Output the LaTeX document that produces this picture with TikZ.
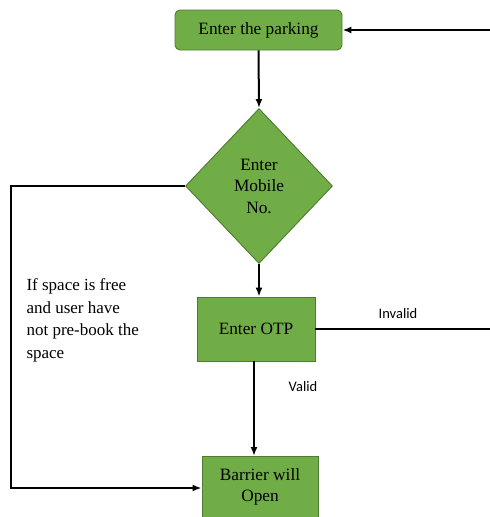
\documentclass[tikz,border=0pt]{standalone}
\usepackage{fontspec}
\setmainfont{Liberation Serif}
\newfontfamily\labelfont{Carlito}
\usetikzlibrary{shapes.geometric,arrows.meta}
\definecolor{boxgreen}{HTML}{70AD47}
\definecolor{boxedge}{HTML}{4E7A31}
\begin{document}
\begin{tikzpicture}[x=1pt,y=-1pt,
  every node/.style={font=\fontsize{17.3}{21.5}\selectfont, text=black},
  greenbox/.style={draw=boxedge, fill=boxgreen, line width=0.9pt, inner sep=0pt},
  conn/.style={line width=2pt, black},
  arr/.style={conn, -{Latex[length=9pt,width=7pt]}},
  tag/.style={font=\labelfont\fontsize{14.5}{17}\selectfont}]
  \useasboundingbox (0,0) rectangle (490,517);

  % process boxes
  \node[greenbox, rounded corners=5pt, minimum width=167pt, minimum height=40pt] (park) at (258.5,30) {Enter the parking};
  \node[greenbox, diamond, minimum width=147pt, minimum height=155pt, align=center, text width=60pt] (mob) at (259,186) {Enter\\Mobile\\No.};
  \node[greenbox, minimum width=118pt, minimum height=64pt] (otp) at (256,329) {Enter OTP};
  \node[greenbox, minimum width=116pt, minimum height=80pt, align=center, anchor=north] (bar) at (260,456) {};
  \node[align=center] (bartext) at (260,487) {Barrier will\\Open};

  % free ends of the long connectors
  \coordinate (inR) at (490,30);
  \coordinate (outR) at (490,329);
  \coordinate (cornTL) at (11,186);
  \coordinate (cornBL) at (11,488);

  % connectors
  \draw[arr] (inR) -- (park.east);
  \draw[arr] (park.south) -- (mob.north);
  \draw[arr] (mob.south) -- (otp.north -| mob.south);
  \draw[conn] (otp.east) -- (outR);
  \draw[arr] (otp.south -| 254,0) -- (bar.north -| 254,0);
  \draw[arr] (mob.west) -- (cornTL) -- (cornBL) -- (cornBL -| bar.west);

  % labels
  \node[tag] (inv) at (398,314) {Invalid};
  \node[tag] (val) at (303,387) {Valid};
  \node[align=left, anchor=north west, font=\fontsize{17}{22.6}\selectfont] (cond) at (23,275)
    {If space is free\\and user have\\not pre-book the\\space};
\end{tikzpicture}
\end{document}
